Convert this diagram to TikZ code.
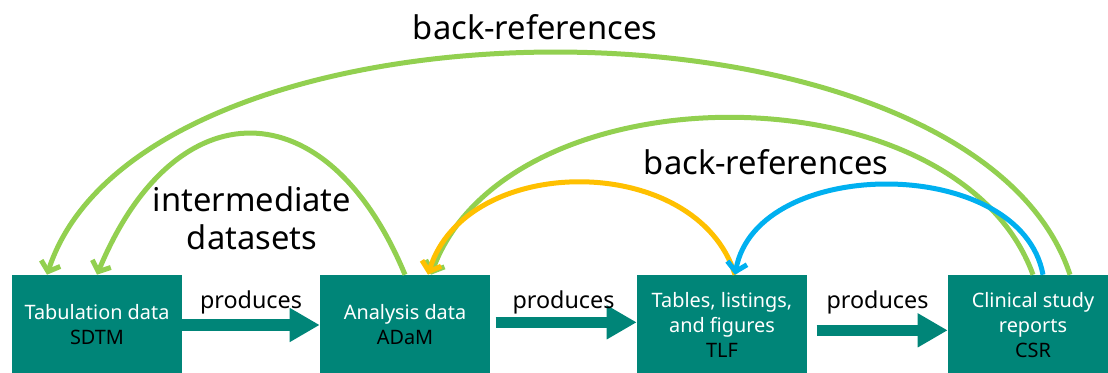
\documentclass[tikz,border=0pt]{standalone}
\usepackage{fontspec}
\setmainfont{Noto Sans}
\usetikzlibrary{arrows.meta,calc}
\definecolor{teal}{RGB}{0,133,120}
\definecolor{lgreen}{RGB}{146,208,80}
\definecolor{amber}{RGB}{255,192,0}
\definecolor{sky}{RGB}{0,176,240}
\begin{document}
\begin{tikzpicture}[x=0.75pt,y=-0.75pt,
                box/.style={fill=teal,text=white,minimum width=127.5pt,minimum height=75pt,
                  align=center,font=\fontsize{14.9}{18.75}\selectfont},
                prod/.style={teal,line width=8.6pt,-{Triangle[length=22.5pt,width=24pt]}},
                word/.style={text=black,inner sep=0pt,font=\fontsize{17.5}{20}\selectfont},
                big/.style={align=center,inner sep=0pt,font=\fontsize{24.5}{28.5}\selectfont},
                backref/.style={line width=3.75pt,-{Straight Barb[length=6.5pt,width=15pt]}}]
  \useasboundingbox (0,0) rectangle (1108,373);
  \node[box] (tab) at (97,325)   {Tabulation data\\\textcolor{black}{SDTM}};
  \node[box] (ana) at (405,325)  {Analysis data\\\textcolor{black}{ADaM}};
  \node[box] (tlf) at (722,325)  {Tables, listings,\\and figures\\\textcolor{black}{TLF}};
  \node[box] (csr) at (1033,325) {Clinical study\\reports\\\textcolor{black}{CSR}};
  \draw[prod] (tab.east) -- node[word,above=4pt] {produces} (ana.west);
  \draw[prod,shorten <=4pt] ([yshift=2pt]ana.east) -- node[word,above=2pt] {produces} ([yshift=2pt]tlf.west);
  \draw[prod,shorten <=7pt] ([yshift=-4pt]tlf.east) -- node[word,above=7.5pt] {produces} ([yshift=-4pt]csr.west);
  \node[big] (top) at (535,27)  {back-references};
  \node[big] (mid) at (766,162) {back-references};
  \node[big] (itm) at (252,218) {intermediate\\datasets};
  % green back-references
  \draw[backref,lgreen] ($(csr.north)+(37,0)$) .. controls +(-97,-296) and +(97,-296) .. ($(tab.north)+(-50,0)$);
  \draw[backref,lgreen] (ana.north) .. controls +(-78,-188) and +(78,-188) .. (tab.north);
  \draw[backref,lgreen] (csr.north) .. controls +(-76,-209) and +(76,-209) .. ($(ana.north)+(26,0)$);
  \draw[backref,amber] ($(tlf.north)+(13,0)$) .. controls +(-38,-123) and +(38,-123) .. ($(ana.north)+(23,0)$);
  \draw[backref,sky] ($(csr.north)+(10,0)$) .. controls +(-22,-120) and +(22,-120) .. ($(tlf.north)+(13,0)$);
\end{tikzpicture}
\end{document}
